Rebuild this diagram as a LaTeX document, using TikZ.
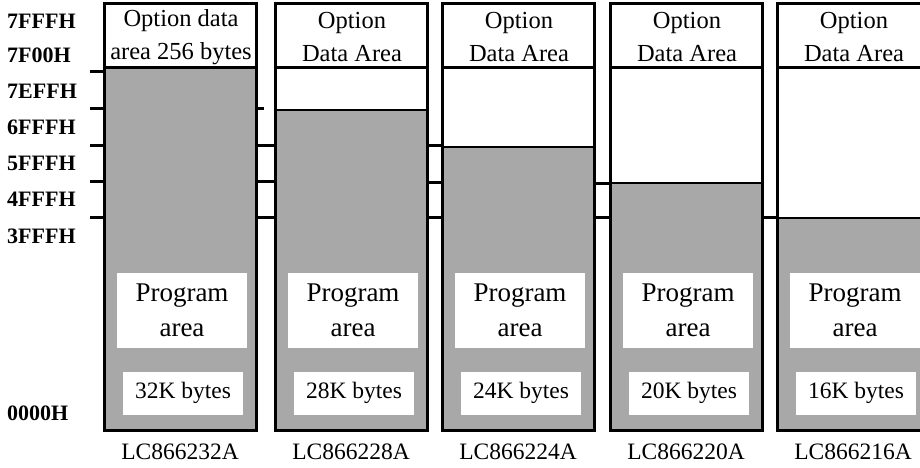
\documentclass[tikz,border=0pt]{standalone}
\usepackage{fontspec}
\setmainfont{Liberation Serif}
\usetikzlibrary{calc}
\tikzset{
	memshade/.style={fill=black!34},
	tick/.style={line width=3pt},
	addr/.style={anchor=west, inner sep=0pt, font=\fontsize{22}{22}\selectfont\bfseries},
	hdr/.style={align=center, inner sep=0pt, font=\fontsize{24.5}{33}\selectfont},
	progbox/.style={fill=white, minimum width=130pt, minimum height=75pt, inner sep=0pt, align=center, font=\fontsize{27}{35}\selectfont},
	bytebox/.style={fill=white, minimum width=120pt, minimum height=43pt, inner sep=0pt, font=\fontsize{23.5}{23.5}\selectfont},
	partlbl/.style={inner sep=0pt, font=\fontsize{23.5}{23.5}\selectfont}
}
% left x, top of program area, name, header, size, part
\def\memcol(#1:#2)#3#4#5#6{%
	\fill[memshade] (#1,#2) rectangle ({#1+152},430);
	\draw[line width=1.5pt] (#1,#2) -- ({#1+152},#2);
	\draw[line width=3pt] (#1,68) -- ({#1+152},68);
	\draw[line width=3pt] (#1,4) rectangle ({#1+152},430);
	\node[hdr] (#3h) at ({#1+77},37) {#4};
	\node[progbox] (#3p) at ({#1+78},310) {Program\\area};
	\node[bytebox] (#3b) at ({#1+79},393) {#5};
	\node[partlbl] (#3n) at ({#1+76},452) {#6};
}

\begin{document}
\begin{tikzpicture}[x=1pt, y=-1pt]
		%%%%% START %%%%%
		\useasboundingbox (0,0) rectangle (920,468);
		\clip (0,0) rectangle (920,468);
		
		\node[addr] (a7fff) at (7,21) {7FFFH};
		\node[addr] (a7f00) at (7,55) {7F00H};
		\node[addr] (a7eff) at (7,91) {7EFFH};
		\node[addr] (a6fff) at (7,127) {6FFFH};
		\node[addr] (a5fff) at (7,163) {5FFFH};
		\node[addr] (a4fff) at (7,199) {4FFFH};
		\node[addr] (a3fff) at (7,236) {3FFFH};
		\node[addr] (a0000) at (7,413) {0000H};
		
		\draw[tick] (90,72) -- (104,72);
		\draw[tick] (90,109) -- (104,109);
		\draw[tick] (90,145) -- (104,145);
		\draw[tick] (90,181) -- (104,181);
		\draw[tick] (90,217) -- (104,217);
		
		\draw[tick] (256,109) -- (264,109);
		\draw[tick] (256,145) -- (275,145);
		\draw[tick] (256,181) -- (275,181);
		\draw[tick] (256,217) -- (275,217);
		
		\draw[tick] (427,145) -- (443,145);
		\draw[tick] (427,182) -- (443,182);
		\draw[tick] (427,217) -- (443,217);
		
		\draw[tick] (594,183) -- (610,183);
		\draw[tick] (594,217) -- (610,217);
		
		\draw[tick] (762,217) -- (777,217);
		
		\memcol(104:68){c32}{Option data\\area 256 bytes}{32K bytes}{LC866232A}
		\memcol(275:110){c28}{Option\\Data Area}{28K bytes}{LC866228A}
		\memcol(442:147){c24}{Option\\Data Area}{24K bytes}{LC866224A}
		\memcol(610:183){c20}{Option\\Data Area}{20K bytes}{LC866220A}
		\memcol(777:218){c16}{Option\\Data Area}{16K bytes}{LC866216A}
		
		%%%%% END %%%%%
\end{tikzpicture}
\end{document}
